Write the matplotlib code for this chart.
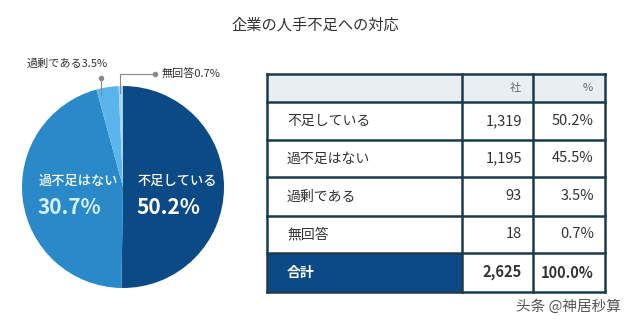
import matplotlib.pyplot as plt
from matplotlib.patches import Rectangle

plt.rcParams['font.family'] = ['Noto Sans CJK JP', 'DejaVu Sans']

# survey: how companies see their staffing situation
categories = ["不足している", "過不足はない", "過剰である", "無回答"]
counts = [1319, 1195, 93, 18]
percents = [50.2, 45.5, 3.5, 0.7]
pie_label_pcts = [50.2, 30.7, 3.5, 0.7]
total_count = 2625
total_pct = 100.0

colors = ["#0c4a86", "#2a89c9", "#5ab5ec", "#a3d6f5"]
navy = "#0c4a86"
border = "#1c3b4c"

W, H = 631, 333
fig = plt.figure(figsize=(W / 100, H / 100), dpi=100)
ax = fig.add_axes([0, 0, 1, 1])


def Y(y):
    # layout below is measured from the top edge
    return H - y


ax.text(315, Y(25), "企業の人手不足への対応", ha="center", va="center",
        fontsize=11, color="#333333")

# pie
cx, cy, r = 123, 187, 101
ax.pie(counts, colors=colors, startangle=90, counterclock=False,
       center=(cx, Y(cy)), radius=r, frame=True,
       wedgeprops=dict(linewidth=0))
ax.set_xlim(0, W)
ax.set_ylim(0, H)
ax.set_aspect("equal")
ax.axis("off")

ax.text(137, Y(181), categories[0], ha="left", va="center",
        fontsize=9.5, fontweight="medium", color="white")
ax.text(136, Y(208), f"{pie_label_pcts[0]:.1f}%", ha="left", va="center",
        fontsize=15, fontweight="bold", color="white")
ax.text(39, Y(181), categories[1], ha="left", va="center",
        fontsize=9.5, fontweight="medium", color="white")
ax.text(38, Y(208), f"{pie_label_pcts[1]:.1f}%", ha="left", va="center",
        fontsize=15, fontweight="bold", color="#d6f1ff")

# callouts for the two small slices
lc = "#888888"
ax.text(27, Y(64), f"{categories[2]}{pie_label_pcts[2]:.1f}%", ha="left",
        va="center", fontsize=8, color="#333333")
ax.plot([101, 101], [Y(78), Y(95)], color=lc, lw=0.8)
ax.plot(101, Y(78), "o", ms=3, color=lc)

ax.text(162, Y(74), f"{categories[3]}{pie_label_pcts[3]:.1f}%", ha="left",
        va="center", fontsize=8, color="#333333")
ax.plot([155, 120, 120], [Y(74), Y(74), Y(93)], color=lc, lw=0.8)
ax.plot(155, Y(74), "o", ms=3, color=lc)

# table
col_x = [267, 462, 533, 605]
row_y = [74, 102, 140, 177, 216, 253, 292]

ax.add_patch(Rectangle((col_x[0], Y(row_y[1])), col_x[3] - col_x[0],
                       row_y[1] - row_y[0], facecolor="#e9eef2",
                       edgecolor="none"))
ax.add_patch(Rectangle((col_x[0], Y(row_y[6])), col_x[1] - col_x[0],
                       row_y[6] - row_y[5], facecolor=navy, edgecolor="none"))

for x in col_x:
    ax.plot([x, x], [Y(row_y[0]), Y(row_y[-1])], color=border, lw=1.8,
            solid_capstyle="projecting")
for y in row_y:
    ax.plot([col_x[0], col_x[-1]], [Y(y), Y(y)], color=border, lw=1.8,
            solid_capstyle="projecting")

ax.text(col_x[2] - 12, Y((row_y[0] + row_y[1]) / 2), "社", ha="right",
        va="center", fontsize=8, color="#666666")
ax.text(col_x[3] - 12, Y((row_y[0] + row_y[1]) / 2), "%", ha="right",
        va="center", fontsize=8, color="#666666")

txt = "#333333"
for i, (cat, n, p) in enumerate(zip(categories, counts, percents)):
    ym = Y((row_y[i + 1] + row_y[i + 2]) / 2)
    ax.text(col_x[0] + 20, ym, cat, ha="left", va="center", fontsize=10,
            color=txt)
    ax.text(col_x[2] - 11, ym, f"{n:,}", ha="right", va="center",
            fontsize=10.5, color=txt)
    ax.text(col_x[3] - 11, ym, f"{p:.1f}%", ha="right", va="center",
            fontsize=10.5, color=txt)

ym = Y((row_y[5] + row_y[6]) / 2)
ax.text(col_x[0] + 20, ym, "合計", ha="left", va="center", fontsize=10,
        fontweight="bold", color="white")
ax.text(col_x[2] - 11, ym, f"{total_count:,}", ha="right", va="center",
        fontsize=10.5, fontweight="bold", color=txt)
ax.text(col_x[3] - 11, ym, f"{total_pct:.1f}%", ha="right", va="center",
        fontsize=10.5, fontweight="bold", color=txt)

ax.text(621, Y(307), "头条 @神居秒算", ha="right", va="center", fontsize=10.5,
        color="#555555", family=["Noto Sans CJK SC", "DejaVu Sans"])

fig.savefig("out.png", dpi=100, facecolor="white")
